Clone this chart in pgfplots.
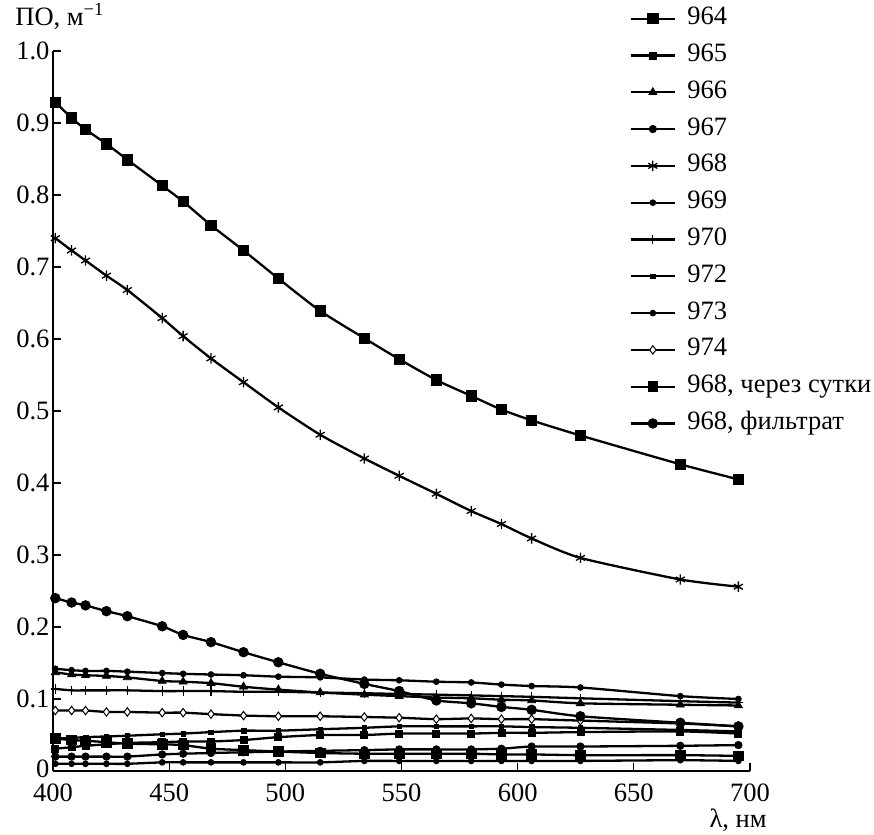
\documentclass[border=0pt]{standalone}
\usepackage{fontspec}
\setmainfont{Liberation Serif}
\usepackage{pgfplots}
\pgfplotsset{compat=1.18}

\newcommand{\bigfont}{\fontsize{26.5pt}{30pt}\selectfont}

\begin{document}
\begin{tikzpicture}
\useasboundingbox (-53pt,-63pt) rectangle (821pt,771pt);
\begin{axis}[
    at={(0pt,0pt)}, anchor=south west,
    scale only axis, width=697pt, height=720pt,
    xmin=400, xmax=700, ymin=0, ymax=1,
    axis x line*=bottom, axis y line*=left,
    axis line style={line width=1.2pt},
    tick align=inside, major tick length=8pt,
    tick style={black, line width=1.2pt},
    xtick={400,450,...,700},
    ytick={0,0.1,...,1.0},
    yticklabels={\raisebox{5pt}{0},0.1,0.2,0.3,0.4,0.5,0.6,0.7,0.8,0.9,1.0},
    /pgf/number format/assume math mode=true,
    /pgf/number format/set thousands separator={},
    tick label style={font=\bigfont},
    xticklabel style={yshift=-9pt},
    xlabel={λ, нм}, ylabel={ПО, м\textsuperscript{−1}},
    every axis x label/.style={at={(axis description cs:0.983,-0.068)}, anchor=center, font=\bigfont},
    every axis y label/.style={at={(axis description cs:-0.059,1.048)}, anchor=west, font=\bigfont},
    legend style={at={(axis description cs:0.8235,1.066)}, anchor=north west,
        draw=none, fill=none, font=\bigfont, column sep=12pt, row sep=10.8pt,
        nodes={inner sep=0pt, text height=19pt, text depth=7pt}},
    legend cell align=left,
    legend image code/.code={
        \draw[mark repeat=2,mark phase=2,#1] plot coordinates {(0pt,0pt) (21.5pt,0pt) (43pt,0pt)};
    },
    lin/.style={black, line width=2.3pt, smooth, tension=0.4},
]
% 964
\addplot[lin, mark=square*, mark size=5.2pt, mark options={line width=0.8pt}] coordinates {
  (401,0.929)(408,0.907)(414,0.891)(423,0.871)(432,0.849)(447,0.813)(456,0.791)
  (468,0.758)(482,0.723)(497,0.684)(515,0.639)(534,0.601)(549,0.572)(565,0.543)
  (580,0.521)(593,0.502)(606,0.487)(627,0.466)(670,0.426)(695,0.405)};
\addlegendentry{964}
% 965
\addplot[lin, mark=square*, mark size=3.5pt, mark options={line width=0.8pt}] coordinates {
  (401,0.031)(408,0.033)(414,0.035)(423,0.037)(432,0.039)(447,0.040)(456,0.041)
  (468,0.041)(482,0.043)(497,0.047)(515,0.050)(534,0.050)(549,0.052)(565,0.052)
  (580,0.052)(593,0.053)(606,0.053)(627,0.054)(670,0.055)(695,0.052)};
\addlegendentry{965}
% 966
\addplot[lin, mark=triangle*, mark size=4.6pt, mark options={line width=0.8pt}] coordinates {
  (401,0.137)(408,0.134)(414,0.133)(423,0.132)(432,0.130)(447,0.125)(456,0.124)
  (468,0.122)(482,0.117)(497,0.113)(515,0.109)(534,0.106)(549,0.104)(565,0.102)
  (580,0.101)(593,0.099)(606,0.098)(627,0.094)(670,0.092)(695,0.091)};
\addlegendentry{966}
% 967
\addplot[lin, mark=*, mark size=3.7pt, mark options={line width=0.8pt}] coordinates {
  (401,0.020)(408,0.020)(414,0.020)(423,0.020)(432,0.020)(447,0.023)(456,0.024)
  (468,0.025)(482,0.026)(497,0.027)(515,0.028)(534,0.029)(549,0.030)(565,0.030)
  (580,0.030)(593,0.031)(606,0.034)(627,0.034)(670,0.035)(695,0.036)};
\addlegendentry{967}
% 968
\addplot[lin, mark=asterisk, mark size=5.2pt, mark options={line width=1.3pt}] coordinates {
  (401,0.740)(408,0.723)(414,0.709)(423,0.688)(432,0.668)(447,0.629)(456,0.604)
  (468,0.573)(482,0.540)(497,0.505)(515,0.467)(534,0.434)(549,0.410)(565,0.385)
  (580,0.361)(593,0.343)(606,0.323)(627,0.296)(670,0.266)(695,0.256)};
\addlegendentry{968}
% 969
\addplot[lin, mark=*, mark size=2.9pt, mark options={line width=0.8pt}] coordinates {
  (401,0.142)(408,0.140)(414,0.139)(423,0.139)(432,0.138)(447,0.136)(456,0.135)
  (468,0.134)(482,0.133)(497,0.131)(515,0.130)(534,0.127)(549,0.126)(565,0.124)
  (580,0.123)(593,0.120)(606,0.118)(627,0.116)(670,0.104)(695,0.100)};
\addlegendentry{969}
% 970
\addplot[lin, mark=+, mark size=4.6pt, mark options={line width=1.2pt}] coordinates {
  (401,0.114)(408,0.112)(414,0.112)(423,0.112)(432,0.112)(447,0.111)(456,0.111)
  (468,0.111)(482,0.110)(497,0.110)(515,0.109)(534,0.108)(549,0.107)(565,0.106)
  (580,0.105)(593,0.104)(606,0.103)(627,0.101)(670,0.097)(695,0.095)};
\addlegendentry{970}
% 972
\addplot[lin, mark=square*, mark size=2.3pt, mark options={line width=0.6pt}] coordinates {
  (401,0.045)(408,0.046)(414,0.047)(423,0.048)(432,0.049)(447,0.051)(456,0.052)
  (468,0.054)(482,0.056)(497,0.056)(515,0.058)(534,0.060)(549,0.062)(565,0.062)
  (580,0.062)(593,0.062)(606,0.061)(627,0.060)(670,0.057)(695,0.055)};
\addlegendentry{972}
% 973
\addplot[lin, mark=*, mark size=2.9pt, mark options={line width=0.8pt}] coordinates {
  (401,0.010)(408,0.010)(414,0.010)(423,0.010)(432,0.010)(447,0.012)(456,0.012)
  (468,0.012)(482,0.012)(497,0.012)(515,0.012)(534,0.014)(549,0.014)(565,0.014)
  (580,0.014)(593,0.014)(606,0.014)(627,0.014)(670,0.015)(695,0.014)};
\addlegendentry{973}
% 974
\addplot[lin, mark=diamond*, mark size=4.2pt, mark options={fill=white, line width=1pt}] coordinates {
  (401,0.084)(408,0.084)(414,0.084)(423,0.082)(432,0.082)(447,0.081)(456,0.081)
  (468,0.079)(482,0.077)(497,0.076)(515,0.076)(534,0.075)(549,0.074)(565,0.072)
  (580,0.073)(593,0.072)(606,0.072)(627,0.070)(670,0.066)(695,0.062)};
\addlegendentry{974}
% 968, через сутки
\addplot[lin, mark=square*, mark size=4.8pt, mark options={line width=0.8pt}] coordinates {
  (401,0.045)(408,0.043)(414,0.042)(423,0.040)(432,0.038)(447,0.037)(456,0.036)
  (468,0.031)(482,0.029)(497,0.027)(515,0.025)(534,0.024)(549,0.024)(565,0.024)
  (580,0.024)(593,0.023)(606,0.023)(627,0.022)(670,0.022)(695,0.021)};
\addlegendentry{968, через сутки}
% 968, фильтрат
\addplot[lin, mark=*, mark size=4.8pt, mark options={line width=0.8pt}] coordinates {
  (401,0.240)(408,0.234)(414,0.230)(423,0.222)(432,0.215)(447,0.201)(456,0.189)
  (468,0.179)(482,0.165)(497,0.151)(515,0.135)(534,0.121)(549,0.111)(565,0.098)
  (580,0.094)(593,0.089)(606,0.085)(627,0.076)(670,0.067)(695,0.062)};
\addlegendentry{968, фильтрат}
\end{axis}
\end{tikzpicture}
\end{document}
